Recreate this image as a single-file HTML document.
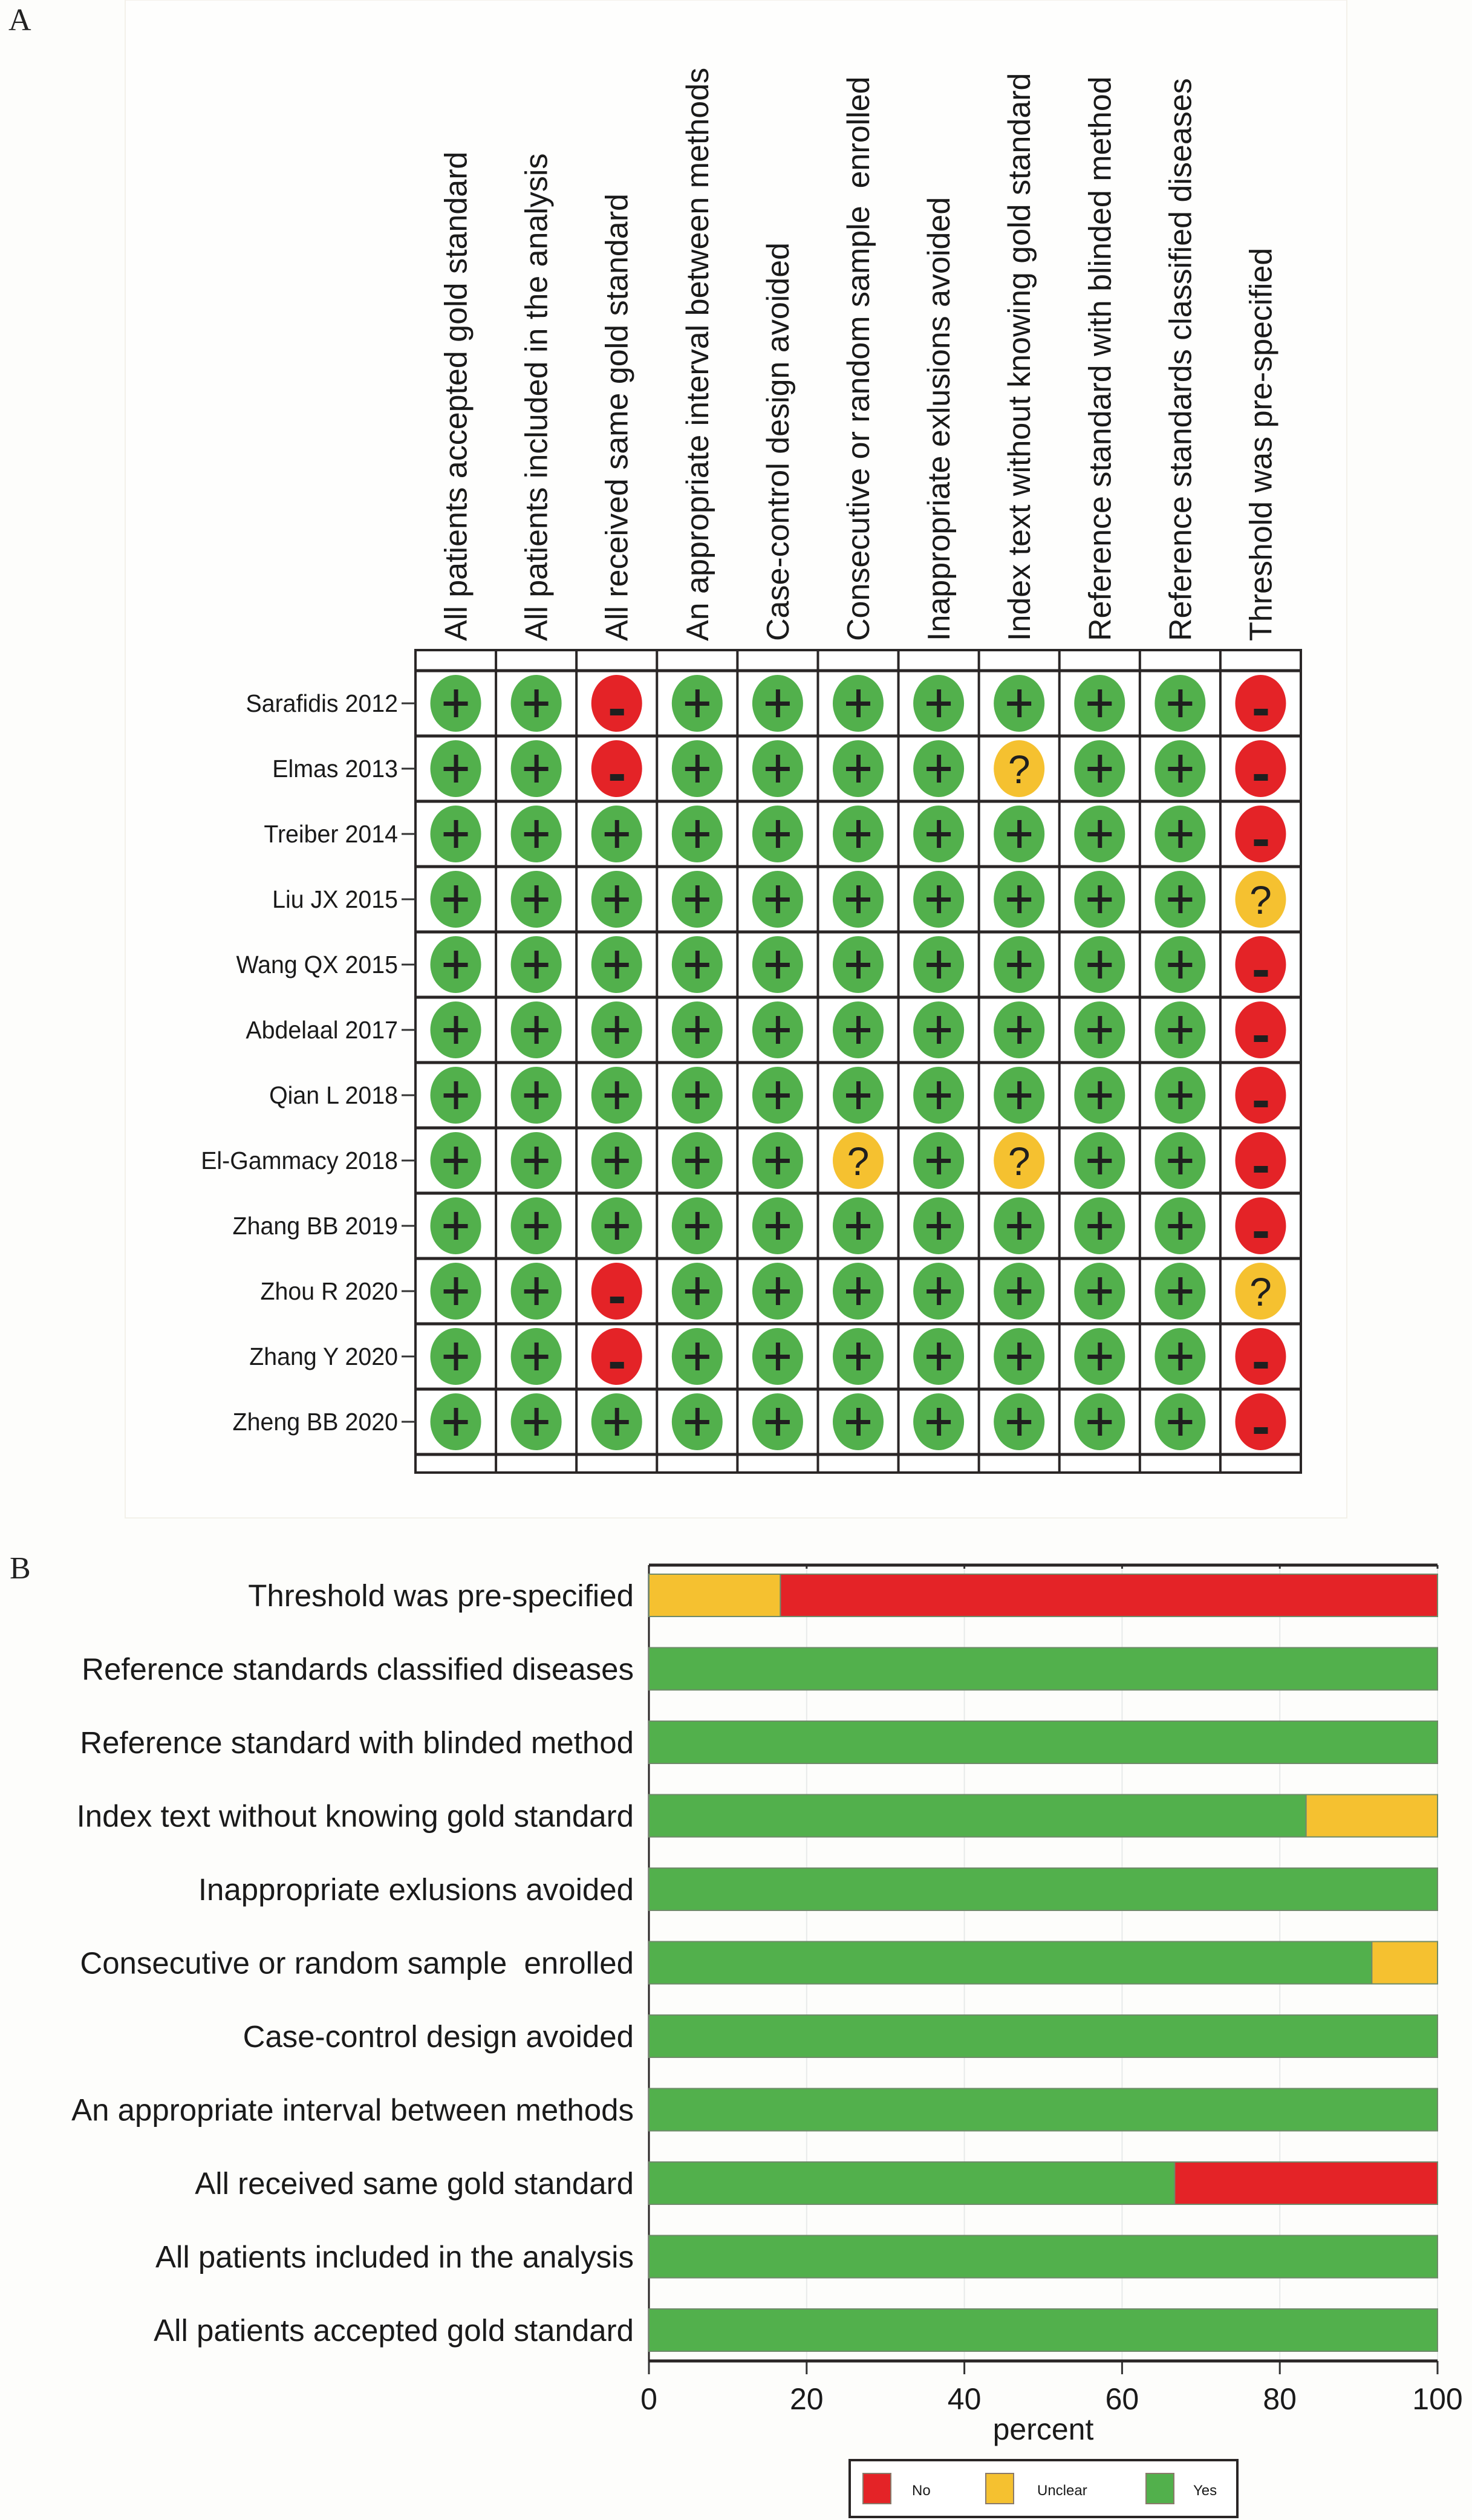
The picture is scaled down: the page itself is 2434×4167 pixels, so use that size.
<!DOCTYPE html>
<html><head><meta charset="utf-8">
<style>
html,body{margin:0;padding:0;background:#fdfdfb;}
svg{display:block;}
text{font-family:"Liberation Sans",sans-serif;white-space:pre;}
</style></head>
<body>
<svg id="fig" width="2434" height="4167" viewBox="0 0 2434 4167" xmlns="http://www.w3.org/2000/svg">
<rect x="0" y="0" width="2434" height="4167" fill="#fdfdfb"/>
<rect x="207" y="0" width="2020" height="2510" fill="#fefefd" stroke="#f3f1ea" stroke-width="2"/>
<text x="14" y="50" font-size="52" fill="#222" style="font-family:'Liberation Serif',serif">A</text>
<text x="16" y="2610" font-size="52" fill="#222" style="font-family:'Liberation Serif',serif">B</text>
<g id="gA"></g>
<g id="gB"></g>
</svg>
<script>
// ---- Panel A data ----
const domains = ["All patients accepted gold standard","All patients included in the analysis","All received same gold standard","An appropriate interval between methods","Case-control design avoided","Consecutive or random sample  enrolled","Inappropriate exlusions avoided","Index text without knowing gold standard","Reference standard with blinded method","Reference standards classified diseases","Threshold was pre-specified"];
const studies = ["Sarafidis 2012","Elmas 2013","Treiber 2014","Liu JX 2015","Wang QX 2015","Abdelaal 2017","Qian L 2018","El-Gammacy 2018","Zhang BB 2019","Zhou R 2020","Zhang Y 2020","Zheng BB 2020"];
const judgements = [
"++-+++++++-",
"++-++++?++-",
"++++++++++-",
"++++++++++?",
"++++++++++-",
"++++++++++-",
"++++++++++-",
"+++++?+?++-",
"++++++++++-",
"++-+++++++?",
"++-+++++++-",
"++++++++++-"];
// ---- Panel B data (percent) ----
const bCategories = ["Threshold was pre-specified","Reference standards classified diseases","Reference standard with blinded method","Index text without knowing gold standard","Inappropriate exlusions avoided","Consecutive or random sample  enrolled","Case-control design avoided","An appropriate interval between methods","All received same gold standard","All patients included in the analysis","All patients accepted gold standard"];
const yesPct = [0,100,100,83.33,100,91.67,100,100,66.67,100,100];
const unclearPct = [16.67,0,0,16.67,0,8.33,0,0,0,0,0];
const noPct = [83.33,0,0,0,0,0,0,0,33.33,0,0];
const xTicks = [0,20,40,60,80,100];
const legendLabels = ["No","Unclear","Yes"];

const NS="http://www.w3.org/2000/svg";
const GREEN="#52b04c", RED="#e42327", YEL="#f5c130";
function mk(tag, attrs, parent){const e=document.createElementNS(NS,tag);for(const k in attrs)e.setAttribute(k,attrs[k]);parent.appendChild(e);return e;}

// ---- Panel A ----
const gA=document.getElementById('gA');
const gx0=687, colW=(2151-687)/11, gyTop=1075, rowTop0=1109, rowH=108;
const nR=studies.length, gyBot=rowTop0+nR*rowH+30;
const colX=i=>gx0+colW*(i+0.5);
const rowY=j=>rowTop0+rowH*(j+0.5);
let r=mk('rect',{x:gx0,y:gyTop,width:colW*11,height:gyBot-gyTop,fill:'#fff',stroke:'#2a2626','stroke-width':4},gA);


for(let i=1;i<11;i++){let l=mk('line',{x1:gx0+colW*i,x2:gx0+colW*i,y1:gyTop,y2:gyBot,stroke:'#2a2626','stroke-width':4},gA);

}
for(let j=0;j<=nR;j++){let l=mk('line',{x1:gx0,x2:gx0+colW*11,y1:rowTop0+rowH*j,y2:rowTop0+rowH*j,stroke:'#2a2626','stroke-width':5},gA);

}
domains.forEach((d,i)=>{
  const t=mk('text',{x:0,y:0,transform:`translate(${colX(i)+18},1060) rotate(-90)`,'font-size':52,fill:'#1a1a1a'},gA);
  t.textContent=d;
  
  
});
studies.forEach((s,j)=>{
  const t=mk('text',{x:658,y:rowY(j)+14,'text-anchor':'end','font-size':41,fill:'#1a1a1a',transform:`translate(${658*0.04},0) scale(0.96,1)`},gA);
  t.textContent=s;
  
  
  const tk=mk('line',{x1:664,x2:687,y1:rowY(j),y2:rowY(j),stroke:'#333','stroke-width':3},gA);
  
  
});
judgements.forEach((row,j)=>{
  row.split('').forEach((c,i)=>{
    const cx=colX(i), cy=rowY(j);
    const fill=c==='+'?GREEN:(c==='-'?RED:YEL);
    const e=mk('ellipse',{cx:cx,cy:cy,rx:42,ry:47,fill:fill},gA);
    
    
    if(c==='+'){
      mk('rect',{x:cx-20,y:cy-3,width:40,height:7,fill:'#1f1f1f'},gA);
      mk('rect',{x:cx-3,y:cy-23,width:7,height:46,fill:'#1f1f1f'},gA);
    }else if(c==='-'){
      mk('rect',{x:cx-11,y:cy+9,width:23,height:11,fill:'#1f1f1f'},gA);
    }else{
      const q=mk('text',{x:cx,y:cy+24,'text-anchor':'middle','font-size':66,fill:'#1f1f1f'},gA);
      q.textContent='?';
    }
  });
});

// ---- Panel B ----
const gB=document.getElementById('gB');
const px0=1073, px1=2377, pyTop=2588, pyBot=3904;
const bar0=2638, barStep=(3853-2638)/10, barH=70;
const sx=v=>px0+(px1-px0)*v/100;
const by=k=>bar0+barStep*k;
xTicks.forEach(v=>{
  const g=mk('line',{x1:sx(v),x2:sx(v),y1:pyTop,y2:pyBot,stroke:'#e8eaea','stroke-width':2},gB);
  
  
  mk('line',{x1:sx(v),x2:sx(v),y1:pyTop,y2:pyTop+6,stroke:'#333','stroke-width':3},gB);
  const tk=mk('line',{x1:sx(v),x2:sx(v),y1:pyBot,y2:pyBot+22,stroke:'#333','stroke-width':3},gB);
  
  
  const tl=mk('text',{x:sx(v),y:pyBot+80,'text-anchor':'middle','font-size':50,fill:'#1a1a1a'},gB);
  tl.textContent=String(v);
  
  
});
mk('line',{x1:px0,x2:px1,y1:pyTop,y2:pyTop,stroke:'#2a2626','stroke-width':5},gB);
const xa=mk('line',{x1:px0,x2:px1,y1:pyBot,y2:pyBot,stroke:'#2a2626','stroke-width':5},gB);


mk('line',{x1:px0,x2:px0,y1:pyTop,y2:pyBot,stroke:'#2a2626','stroke-width':3},gB);
const xt=mk('text',{x:sx(50),y:4034,'text-anchor':'middle','font-size':50,fill:'#1a1a1a'},gB);
xt.textContent='percent';


bCategories.forEach((c,k)=>{
  const cy=by(k);
  const t=mk('text',{x:1048,y:cy+18,'text-anchor':'end','font-size':51,fill:'#1a1a1a'},gB);
  t.textContent=c;
  
  
  let acc=0;
  [[yesPct[k],GREEN,'yes'],[unclearPct[k],YEL,'unclear'],[noPct[k],RED,'no']].forEach(([v,col,nm])=>{
    if(v>0){
      const b=mk('rect',{x:sx(acc),y:cy-barH/2,width:sx(acc+v)-sx(acc),height:barH,fill:col,stroke:'#6f8a6a','stroke-width':2},gB);
      
      
    }
    acc+=v;
  });
});
const lg=mk('g',{},gB);


mk('rect',{x:1405,y:4068,width:641,height:94,fill:'#fff',stroke:'#2a2626','stroke-width':4},lg);
const lx=[1427,1630,1895], tx=[1508,1715,1973], lc=[RED,YEL,GREEN];
legendLabels.forEach((l,i)=>{
  const s=mk('rect',{x:lx[i],y:4090,width:46,height:50,fill:lc[i],stroke:'#8a7a6a','stroke-width':2},lg);
  
  
  const t=mk('text',{x:tx[i],y:4126,'font-size':24,fill:'#1a1a1a'},lg);
  t.textContent=l;
  
  
});
</script>
</body></html>
